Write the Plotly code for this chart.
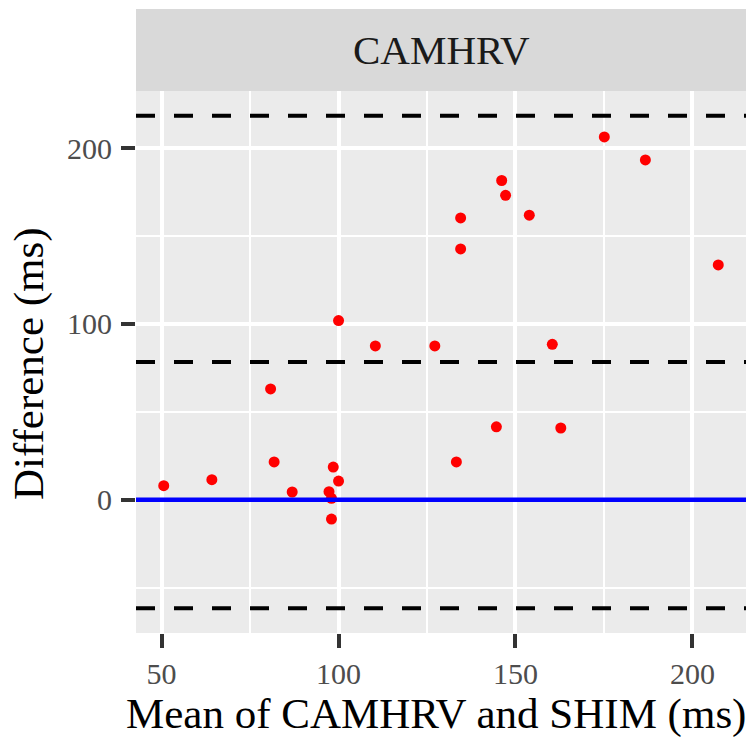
import plotly.graph_objects as go

# Bland-Altman data
mean_x = [175.1, 186.7, 146.1, 147.2, 153.9, 134.5, 134.5, 207.3, 100.0, 110.4,
          127.2, 160.4, 80.8, 144.6, 162.8, 50.6, 64.2, 81.8, 86.9, 98.5,
          100.0, 97.3, 98.0, 98.0, 133.3]
diff_y = [206.4, 193.3, 181.6, 173.2, 161.9, 160.3, 142.7, 133.6, 101.9, 87.5,
          87.5, 88.4, 63.0, 41.5, 40.8, 8.0, 11.4, 21.5, 4.4, 18.6,
          10.6, 4.6, 0.8, -11.0, 21.5]
bias = 78.4
upper_loa = 218.5
lower_loa = -61.8
reference = 0

x_ticks = [50, 100, 150, 200]
x_minor = [75, 125, 175]
y_ticks = [0, 100, 200]
y_minor = [-50, 50, 150]

strip_label = "CAMHRV"
x_title = "Mean of CAMHRV and SHIM (ms)"
y_title = "Difference (ms)"

FONT = "Liberation Serif"

# ggplot-like 5% expansion
xmin, xmax = min(mean_x), max(mean_x)
ymin, ymax = min(min(diff_y), lower_loa), max(max(diff_y), upper_loa)
xpad = 0.05 * (xmax - xmin)
ypad = 0.05 * (ymax - ymin)

W, H = 750, 737
ML, MR, MT, MB = 136, 4, 91, 104
PW, PH = W - ML - MR, H - MT - MB
STRIP_H = 82

fig = go.Figure()
fig.add_trace(go.Scatter(
    x=mean_x, y=diff_y, mode="markers",
    marker=dict(color="#FF0000", size=11, line=dict(width=0)),
    showlegend=False, hoverinfo="x+y"))

for yv in [upper_loa, bias, lower_loa]:
    fig.add_shape(type="line", xref="paper", yref="y", x0=0, x1=1, y0=yv, y1=yv,
                  line=dict(color="black", width=4, dash="19px,19px"), layer="above")
fig.add_shape(type="line", xref="paper", yref="y", x0=0, x1=1, y0=reference, y1=reference,
              line=dict(color="#0000FF", width=4.5), layer="above")

# facet strip
fig.add_shape(type="rect", xref="paper", yref="paper", x0=0, x1=1,
              y0=1, y1=1 + STRIP_H / PH, fillcolor="#D9D9D9", line=dict(width=0), layer="below")
fig.add_annotation(text=strip_label, xref="paper", yref="paper", x=0.5,
                   y=1 + (STRIP_H / 2) / PH, xanchor="center", yanchor="middle",
                   showarrow=False, font=dict(family=FONT, size=41, color="#1A1A1A"))

# axis titles
fig.add_annotation(text=x_title, xref="paper", yref="paper", x=(436 - ML) / PW,
                   y=-(714 - (MT + PH)) / PH, xanchor="center", yanchor="middle",
                   showarrow=False, font=dict(family=FONT, size=43, color="black"))
fig.add_annotation(text=y_title, xref="paper", yref="paper", x=(29 - ML) / PW,
                   y=(MT + PH - 364) / PH, xanchor="center", yanchor="middle",
                   textangle=-90, showarrow=False,
                   font=dict(family=FONT, size=43, color="black"))

axis_common = dict(
    showline=False, zeroline=False, ticks="outside", ticklen=14, tickwidth=4,
    tickcolor="#333333", showgrid=True, gridcolor="white", gridwidth=3.5,
    tickfont=dict(family=FONT, size=30, color="#4D4D4D"),
)
fig.update_xaxes(range=[xmin - xpad, xmax + xpad], tickmode="array", tickvals=x_ticks,
                 minor=dict(tickmode="array", tickvals=x_minor, showgrid=True,
                            gridcolor="white", gridwidth=2, ticks=""),
                 ticklabelstandoff=0, **axis_common)
fig.update_yaxes(range=[ymin - ypad, ymax + ypad], tickmode="array", tickvals=y_ticks,
                 minor=dict(tickmode="array", tickvals=y_minor, showgrid=True,
                            gridcolor="white", gridwidth=2, ticks=""),
                 ticklabelstandoff=3, **axis_common)

fig.update_layout(width=W, height=H, margin=dict(l=ML, r=MR, t=MT, b=MB, pad=0),
                  paper_bgcolor="white", plot_bgcolor="#EBEBEB",
                  font=dict(family=FONT))

fig.write_html("out.html")
